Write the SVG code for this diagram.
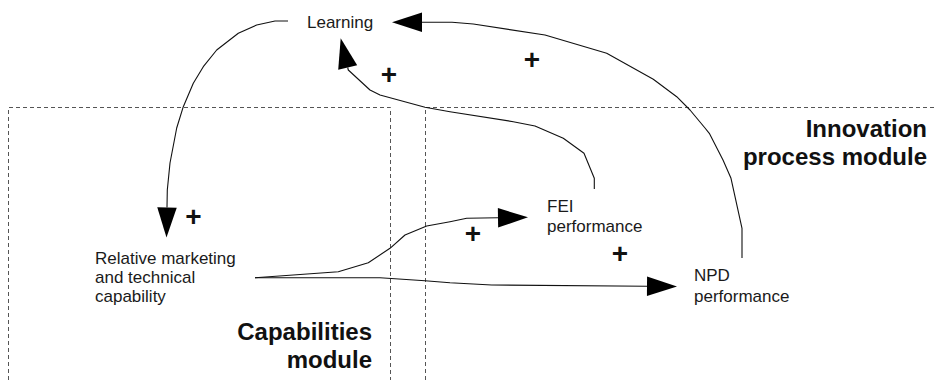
<svg xmlns="http://www.w3.org/2000/svg" width="936" height="380" viewBox="0 0 936 380">
  <style>
    .bg { fill: #ffffff; }
    .module { fill: none; stroke: #555555; stroke-width: 1; stroke-dasharray: 4 3; }
    .label { font-family: "Liberation Sans", Arial, sans-serif; font-size: 17px; fill: #1a1a1a; }
    .title { font-family: "Liberation Sans", Arial, sans-serif; font-size: 24px; font-weight: bold; fill: #111111; text-anchor: end; }
    .sign { font-family: "Liberation Sans", Arial, sans-serif; font-size: 28px; font-weight: bold; fill: #111111; text-anchor: middle; }
    .link { fill: none; stroke: #111111; stroke-width: 1.1; stroke-linejoin: round; marker-end: url(#head); }
  </style>
  <defs>
    <marker id="head" markerUnits="userSpaceOnUse" markerWidth="31" markerHeight="20" refX="0" refY="9.75" orient="auto" overflow="visible">
      <path d="M0,0 L30,9.75 L0,19.5 Z" fill="#000000"/>
    </marker>
  </defs>

  <rect class="bg" x="0" y="0" width="936" height="380"/>

  <!-- module boundaries -->
  <g id="capabilities-module">
    <path class="module" d="M8.5,380 V107.5 H390.5 V380"/>
    <text class="title" x="372" y="340">Capabilities</text>
    <text class="title" x="372" y="368">module</text>
  </g>
  <g id="innovation-process-module">
    <path class="module" d="M425.5,380 V107.5 H936"/>
    <text class="title" x="927" y="137">Innovation</text>
    <text class="title" x="927" y="165">process module</text>
  </g>

  <!-- variables -->
  <g id="learning">
    <text class="label" x="307" y="27.5">Learning</text>
  </g>
  <g id="capability">
    <text class="label" x="95" y="264">Relative marketing</text>
    <text class="label" x="95" y="283">and technical</text>
    <text class="label" x="95" y="302">capability</text>
  </g>
  <g id="fei-performance">
    <text class="label" x="547" y="212">FEI</text>
    <text class="label" x="547" y="232">performance</text>
  </g>
  <g id="npd-performance">
    <text class="label" x="694" y="281">NPD</text>
    <text class="label" x="694" y="301.5">performance</text>
  </g>

  <!-- causal links -->
  <g id="connectors">
    <path class="link" d="M288,21 L275,21 L256.7,25 L238.3,33.3 L216.7,50 L203.3,66.7 L193.3,83.3 L183.3,106.7 L176.7,128 L170,163 L167.3,190 L167,207.5"/>
    <path class="link" d="M742,258 L742,228.3 L731,178.3 L723,160 L709.3,133.3 L705,128 L690,110 L676.7,96.7 L653.3,79.3 L606.7,53.3 L545,35 L473.3,24 L452,22.2 L422,22.2"/>
    <path class="link" d="M594.3,189 L594.3,178.3 L584,153.3 L563.3,138.3 L535,126 L513.3,121.7 L450,111.7 L425,107.3 L380,95 L370,90 L348.3,70 L347.7,67.5"/>
    <path class="link" d="M255,277.7 L338.3,271.7 L368.3,262.7 L390,248.3 L405,235 L426.7,226 L450,221.7 L466.7,218.3 L498,217.8"/>
    <path class="link" d="M255,277.7 L380,277.7 L425,280.7 L450,282.7 L491.7,285 L647,286.2"/>
  </g>

  <!-- link polarities -->
  <g id="polarities">
    <text class="sign" x="389" y="84">+</text>
    <text class="sign" x="532" y="69">+</text>
    <text class="sign" x="193.5" y="225.5">+</text>
    <text class="sign" x="473" y="243">+</text>
    <text class="sign" x="620" y="263">+</text>
  </g>
</svg>
